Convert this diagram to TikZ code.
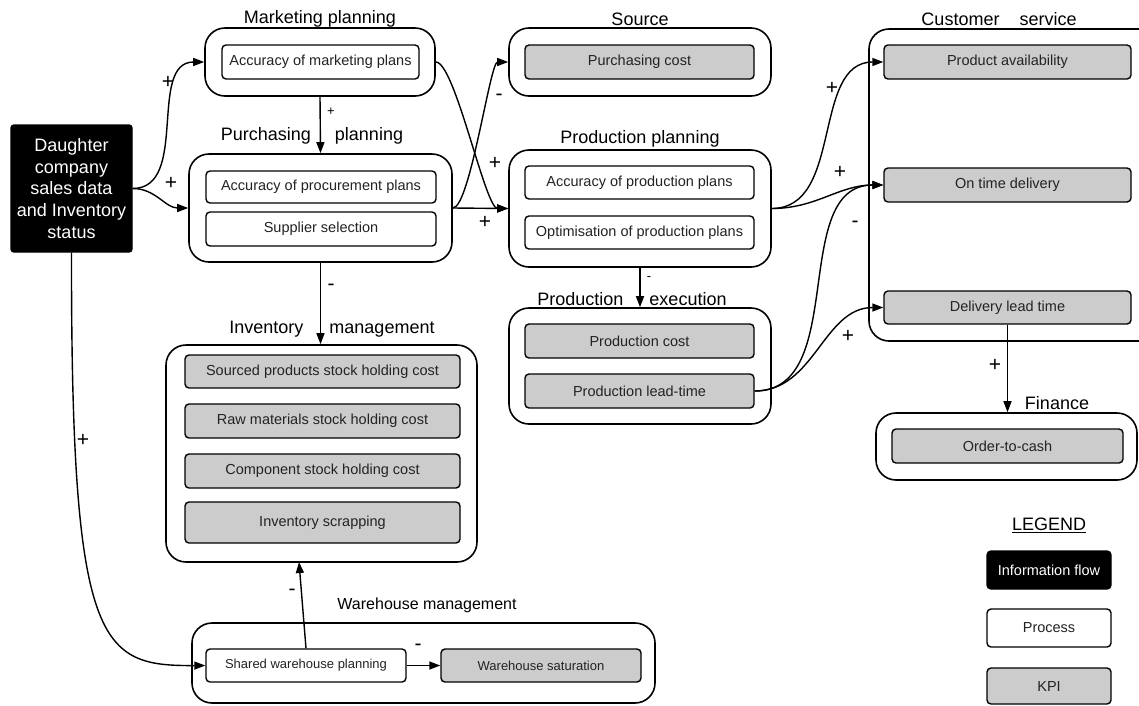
\documentclass[tikz,border=0pt]{standalone}
\usepackage{fontspec}
\setmainfont{Liberation Sans}
\usetikzlibrary{arrows.meta}
\definecolor{kpigray}{RGB}{204,204,204}
\definecolor{txt}{RGB}{35,35,35}
\newcommand{\fsz}[2]{\fontsize{#1}{#2}\selectfont}
\newcommand{\bx}[7]{\node[#1, minimum width={(#5-#3)*1pt}, minimum height={(#6-#4)*1pt}] (#2) at ({(#3+#5)/2},{(#4+#6)/2}) {#7};}
\tikzset{
  base/.style={draw=black, line width=1.4pt, rounded corners=4pt, inner sep=0pt, align=center, text=txt, font=\fsz{14.5}{17}},
  proc/.style={base, fill=white},
  kpi/.style={base, fill=kpigray},
  info/.style={base, fill=black, text=white},
  cont/.style={draw=black, line width=1.6pt, rounded corners=20pt, inner sep=0pt},
  ttl/.style={inner sep=0pt, text=black, font=\fsz{18}{21}},
  sgn/.style={inner sep=0pt, text=black, font=\fsz{21}{24}},
  ssgn/.style={inner sep=0pt, text=black, font=\fsz{13}{15}},
  arr/.style={line width=1.4pt, -{Triangle[length=11pt,width=8pt]}}
}
\begin{document}
\begin{tikzpicture}[x=1pt,y=-1pt]
\useasboundingbox (0,0) rectangle (1139,705);
\clip (0,0) rectangle (1139,705);
% containers
\bx{cont}{mkt}{205}{28}{435}{96}{}
\bx{cont}{pur}{189}{154}{452}{262}{}
\bx{cont}{src}{509}{28}{771}{96}{}
\bx{cont}{ppl}{509}{150}{771}{267}{}
\bx{cont}{pex}{509}{308}{771}{424}{}
\bx{cont}{cs}{869}{29}{1160}{341}{}
\bx{cont}{fin}{876}{413}{1137}{480}{}
\bx{cont}{inv}{166}{345}{477}{562}{}
\bx{cont}{wh}{192}{623}{655}{703}{}
% titles
\node[ttl] (tmkt) at (320,19) {Marketing planning};
\node[ttl] (tpur) at (312,136) {Purchasing\hspace{24pt}planning};
\node[ttl] (tsrc) at (640,19) {Source};
\node[ttl] (tppl) at (640,139) {Production planning};
\node[ttl] (tpex) at (632,299) {Production\hspace{26pt}execution};
\node[ttl] (tcs) at (999,19) {Customer\hspace{20pt}service};
\node[ttl] (tfin) at (1057,403) {Finance};
\node[ttl] (tinv) at (332,329) {Inventory\hspace{26pt}management};
\node[ttl, font=\fsz{16}{19}] (twh) at (427,605) {Warehouse management};
% inner boxes
\bx{info, font=\fsz{18}{21.6}, rounded corners=3pt}{dau}{11}{125}{132}{252}{Daughter\\company\\sales data\\and Inventory\\status}
\bx{proc}{mkA}{222}{45}{419}{79}{Accuracy of marketing plans}
\bx{proc}{puA}{206}{171}{436}{203}{Accuracy of procurement plans}
\bx{proc}{puS}{206}{212}{436}{246}{Supplier selection}
\bx{kpi}{srcP}{525}{45}{754}{79}{Purchasing cost}
\bx{proc}{ppA}{525}{166}{754}{199}{Accuracy of production plans}
\bx{proc}{ppO}{525}{216}{754}{249}{Optimisation of production plans}
\bx{kpi}{pxC}{525}{324}{754}{358}{Production cost}
\bx{kpi}{pxL}{525}{374}{754}{408}{Production lead-time}
\bx{kpi}{csA}{884}{45}{1131}{79}{Product availability}
\bx{kpi}{csO}{884}{168}{1131}{202}{On time delivery}
\bx{kpi}{csD}{884}{291}{1131}{324}{Delivery lead time}
\bx{kpi}{fnO}{892}{429}{1123}{463}{Order-to-cash}
\bx{kpi}{iv1}{185}{355}{460}{388}{Sourced products stock holding cost}
\bx{kpi}{iv2}{185}{404}{460}{438}{Raw materials stock holding cost}
\bx{kpi}{iv3}{185}{454}{460}{488}{Component stock holding cost}
\bx{kpi}{iv4}{185}{502}{460}{543}{Inventory scrapping}
\bx{proc, font=\fsz{13}{15}}{wsp}{206}{649}{406}{682}{Shared warehouse planning}
\bx{kpi, font=\fsz{13}{15}}{wsat}{441}{649}{641}{682}{Warehouse saturation}
% legend
\node[ttl] (lg) at (1049,525) {\underline{LEGEND}};
\bx{info}{lgI}{987}{551}{1111}{589}{Information flow}
\bx{proc}{lgP}{987}{609}{1111}{647}{Process}
\bx{kpi}{lgK}{987}{668}{1111}{704}{KPI}
% connectors
\coordinate (invin) at (299,562);
\draw[arr] (dau.east) to[out=0,in=180] (mkt.west);
\draw[arr] (dau.east) to[out=0,in=180] (pur.west);
\draw[arr] (dau.south) .. controls (71,650) and (100,666) .. (wsp.west);
\draw[arr] (mkt.south) -- (pur.north);
\draw[arr] (pur.south) -- (pur.south |- inv.north);
\draw[arr] (mkt.east) .. controls (455,62) and (485,208.5) .. (ppl.west);
\draw[arr] (pur.east) .. controls (470,208) and (490,62) .. (src.west);
\draw[arr] (pur.east) -- (ppl.west);
\draw[arr] (ppl.south) -- (pex.north);
\draw[arr] (ppl.east) to[out=0,in=180] (csA.west);
\draw[arr] (ppl.east) to[out=0,in=180] (csO.west);
\draw[arr] (pxL.east) to[out=0,in=180] (csO.west);
\draw[arr] (pxL.east) to[out=0,in=180] (csD.west);
\draw[arr] (csD.south) -- (csD.south |- fin.north);
\draw[arr] (wsp.north) -- (invin);
\draw[arr] (wsp.east) -- (wsat.west);
% signs
\node[sgn] (s1) at (168,82) {+};
\node[sgn] (s2) at (171,183) {+};
\node[ssgn] (s3) at (331,112) {+};
\node[sgn] (s4) at (331,287) {-};
\node[sgn] (s5) at (83,440) {+};
\node[sgn] (s6) at (499,97) {-};
\node[sgn] (s7) at (495,163) {+};
\node[sgn] (s8) at (485,222) {+};
\node[ssgn] (s9) at (649,279) {-};
\node[sgn] (s10) at (832,88) {+};
\node[sgn] (s11) at (840,172) {+};
\node[sgn] (s12) at (855,224) {-};
\node[sgn] (s13) at (848,336) {+};
\node[sgn] (s14) at (995,365) {+};
\node[sgn] (s15) at (292,592) {-};
\node[sgn] (s16) at (418,647) {-};
\end{tikzpicture}
\end{document}
